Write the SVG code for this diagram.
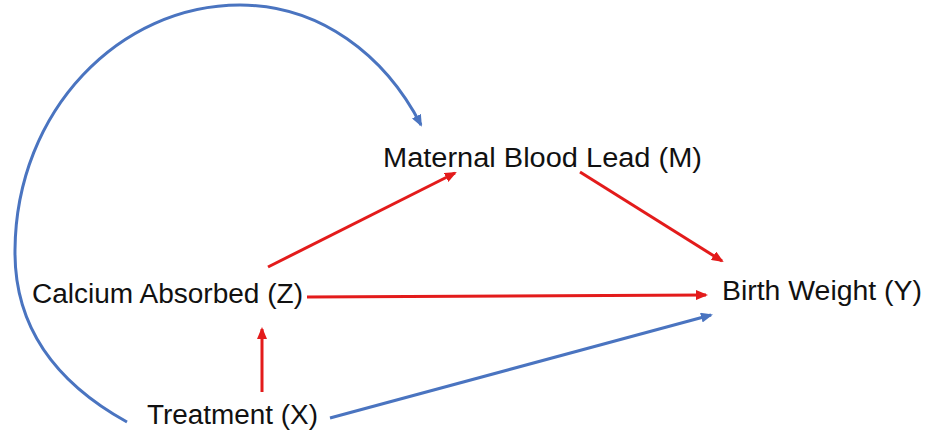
<svg xmlns="http://www.w3.org/2000/svg" width="927" height="436" viewBox="0 0 927 436">
<style>
text{font-family:"Liberation Sans","Open Sans",Arial,sans-serif;font-size:27px;fill:#111}
.r{stroke:#e31b1b;stroke-width:3;fill:none}
.b{stroke:#4a74c0;stroke-width:3;fill:none}
</style>
<defs>
<marker id="ar" viewBox="0 0 12 10" markerWidth="12" markerHeight="10" refX="10" refY="5" orient="auto" markerUnits="userSpaceOnUse"><path d="M0,0 L12,5 L0,10 z" fill="#e31b1b"/></marker>
<marker id="ab" viewBox="0 0 12 10" markerWidth="12" markerHeight="10" refX="10" refY="5" orient="auto" markerUnits="userSpaceOnUse"><path d="M0,0 L12,5 L0,10 z" fill="#4a74c0"/></marker>
</defs>
<rect width="927" height="436" fill="#fff"/>
<g id="connectors">
<path class="b" d="M127,422 C60,385 14,330 15,250 C16,110 120,5 240,5 C320,5 385,55 421,125" marker-end="url(#ab)"/>
<line class="r" x1="268" y1="267" x2="455" y2="173" marker-end="url(#ar)"/>
<line class="r" x1="580" y1="172" x2="722" y2="261" marker-end="url(#ar)"/>
<line class="r" x1="307" y1="297" x2="706" y2="295" marker-end="url(#ar)"/>
<line class="r" x1="262" y1="392" x2="262" y2="329" marker-end="url(#ar)"/>
<line class="b" x1="330" y1="418" x2="711" y2="315" marker-end="url(#ab)"/>
</g>
<g id="node-M"><text x="383" y="167" textLength="319" lengthAdjust="spacingAndGlyphs">Maternal Blood Lead (M)</text></g>
<g id="node-Z"><text x="32" y="303" textLength="271" lengthAdjust="spacingAndGlyphs">Calcium Absorbed (Z)</text></g>
<g id="node-Y"><text x="722" y="300" textLength="200" lengthAdjust="spacingAndGlyphs">Birth Weight (Y)</text></g>
<g id="node-X"><text x="147" y="424" textLength="171" lengthAdjust="spacingAndGlyphs">Treatment (X)</text></g>
</svg>
